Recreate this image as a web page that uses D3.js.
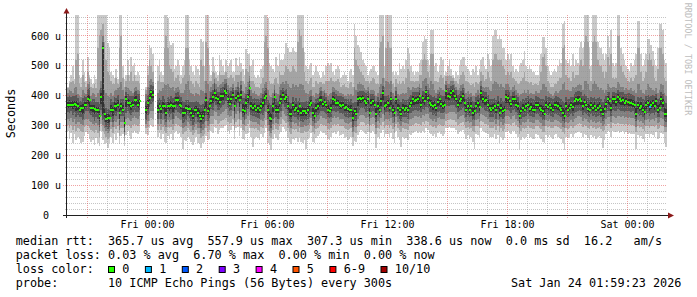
<!DOCTYPE html>
<html><head><meta charset="utf-8">
<script src="https://cdn.jsdelivr.net/npm/d3@7"></script>
<style>
html,body{margin:0;padding:0;background:#fff;}
svg{display:block;}
text{font-family:"DejaVu Sans Mono",monospace;white-space:pre;}
</style></head><body>
<svg id="c" width="697" height="297"></svg>
<script>
// ---- data: one entry per 5-minute step, values in microseconds ----
const med = [
370,370,370,370,372,367,365,353,359,359,367,370,387,385,359,357,356,353,353,331,
396,558,340,320,326,326,353,353,365,365,370,342,365,353,307,387,376,376,365,370,
385,385,370,381,null,null,null,353,376,392,411,403,null,null,353,365,356,365,365,342,
365,365,367,365,365,385,385,370,365,342,342,359,356,356,342,333,353,353,342,333,
322,331,353,385,348,365,381,396,409,392,387,378,400,398,414,409,389,373,389,403,
365,392,400,385,403,353,348,376,396,424,365,359,365,353,357,353,365,376,392,400,
353,326,322,365,396,353,353,376,389,403,387,396,365,340,340,370,353,359,348,365,
342,348,348,342,353,370,376,342,331,359,365,385,385,373,378,370,353,348,359,389,
385,376,376,370,365,370,359,362,356,353,353,326,348,340,387,392,387,392,381,376,
389,342,376,381,370,337,365,353,381,409,365,370,376,359,387,353,342,389,359,353,
340,359,353,359,353,365,376,389,381,385,389,398,370,392,381,411,392,376,370,365,
370,359,378,387,373,365,370,414,400,396,409,414,400,389,370,381,387,400,376,353,
365,353,365,342,348,365,376,362,409,389,381,385,370,359,353,359,365,353,370,342,
359,348,353,396,392,381,373,389,387,370,365,331,348,359,353,365,370,356,362,353,
353,367,370,359,353,348,340,370,362,370,359,353,367,370,365,359,353,342,331,365,
353,359,370,362,381,387,385,389,381,365,378,370,356,353,370,359,365,353,359,365,
353,340,356,373,389,381,359,387,389,378,396,387,381,385,376,381,378,376,376,373,
370,337,370,359,365,353,345,370,376,362,370,376,365,381,353,359,389,376,337,339];

// outer pings (absolute): p1 = fastest ... p10 = slowest
const p10 = [
430,450,470,500,455,680,680,470,460,520,480,450,530,470,455,440,470,455,680,680,
680,680,680,680,575,560,480,470,460,490,455,680,680,500,455,470,520,470,530,500,
510,470,480,470,null,null,null,430,500,570,560,540,null,null,500,520,480,470,680,680,
660,580,570,575,490,500,520,500,470,500,520,680,670,520,500,480,470,500,490,470,
590,580,500,680,680,500,470,530,500,480,470,535,520,500,480,520,500,510,520,480,
480,525,500,530,510,490,470,555,540,540,500,520,470,460,470,460,490,500,680,680,
660,510,500,490,480,530,500,540,520,520,540,575,560,545,545,560,550,545,680,680,
680,670,545,500,490,500,510,470,480,500,480,470,460,480,470,500,510,500,510,480,
470,490,500,490,460,470,480,470,450,480,490,470,640,600,570,560,545,520,510,500,
470,480,490,500,500,480,470,680,680,680,500,680,680,680,680,480,470,480,470,510,
490,500,490,520,560,540,500,480,470,480,480,510,520,580,600,590,520,500,620,620,
500,510,480,500,530,520,470,480,500,520,490,470,460,480,470,500,520,530,530,500,
490,480,470,490,480,500,470,490,520,530,500,490,540,520,500,600,620,620,590,600,
590,560,560,520,540,520,540,500,480,490,480,500,510,520,550,500,490,500,490,480,
480,470,470,500,540,597,597,560,500,480,470,480,490,480,500,520,510,640,650,520,
510,520,500,540,500,520,510,560,580,560,680,680,680,560,500,680,680,680,580,560,
560,540,520,540,600,560,620,510,500,510,680,680,560,540,520,500,490,480,510,500,
520,540,650,650,540,500,520,540,590,590,570,550,520,500,560,640,640,620,520,510];

const p9 = [
425,440,445,450,440,520,540,440,430,470,445,430,480,460,430,425,440,425,560,600,
620,640,580,520,480,470,450,440,440,460,440,560,600,460,430,450,470,450,480,450,
470,450,450,440,null,null,null,418,470,520,500,480,null,null,450,470,445,445,560,600,
560,500,490,480,450,460,470,450,440,460,470,560,560,470,450,440,430,450,440,430,
520,500,450,580,560,450,450,480,475,460,450,480,470,470,470,480,460,460,470,460,
450,470,470,470,480,450,440,490,480,500,450,450,440,430,430,425,440,460,580,600,
560,450,440,440,455,460,440,480,470,470,480,500,490,480,480,500,490,480,580,620,
600,560,480,450,440,450,460,430,430,450,440,445,445,440,440,450,450,450,460,450,
445,450,455,445,430,435,440,430,425,440,445,430,560,520,500,490,480,470,460,450,
450,440,450,460,455,440,440,560,580,600,460,560,580,560,560,440,430,455,440,450,
440,450,440,460,490,480,450,450,445,450,450,470,470,520,540,520,480,460,540,540,
450,450,445,460,470,460,440,465,465,470,465,460,450,450,440,455,470,480,470,450,
445,440,435,440,430,445,440,445,480,470,450,455,480,460,450,520,540,540,520,520,
520,500,490,470,480,470,480,460,455,450,440,440,450,460,480,450,445,440,445,435,
440,440,435,450,480,530,540,500,450,440,430,430,440,440,450,460,460,560,570,470,
460,460,450,480,460,470,470,500,520,500,580,600,580,490,450,580,600,580,520,500,
500,480,460,480,530,500,540,460,455,460,600,600,500,480,470,460,450,445,460,450,
460,470,560,560,480,450,460,480,520,540,520,500,460,450,490,560,560,540,460,450];

const p8 = [
410,420,415,410,425,430,405,400,395,420,410,405,440,445,400,410,405,395,410,420,
450,600,420,410,400,395,410,400,415,420,425,430,445,420,400,430,425,420,415,410,
425,430,420,415,null,null,null,405,430,450,455,445,null,null,410,420,415,425,440,435,
440,430,425,430,415,425,430,420,410,410,420,440,450,420,410,405,400,410,405,400,
420,415,410,450,440,415,430,440,455,440,430,435,440,445,455,455,435,425,430,440,
420,430,445,425,450,415,410,430,445,465,420,410,415,405,400,400,410,425,440,445,
420,400,395,410,435,410,405,430,440,445,440,450,440,430,425,440,430,435,430,440,
440,435,420,410,405,415,420,400,395,410,405,425,430,415,420,410,400,405,410,430,
425,420,415,410,410,405,400,400,405,400,405,400,430,420,440,445,440,435,425,420,
430,410,420,420,415,400,410,430,440,460,430,450,445,440,450,410,400,430,405,400,
405,410,405,410,430,425,420,430,425,425,430,440,425,450,455,460,440,425,450,440,
420,410,420,430,425,420,415,450,440,440,450,450,440,430,420,425,435,440,425,410,
415,405,410,400,400,410,420,410,450,430,425,430,430,420,415,440,450,445,440,430,
440,430,425,440,440,430,420,430,435,420,410,400,405,410,420,410,420,405,410,405,
405,415,410,410,420,440,440,430,415,410,405,400,410,415,410,415,420,440,445,420,
420,415,415,430,425,430,435,440,435,420,450,450,440,420,415,440,450,440,430,420,
425,420,410,420,440,430,425,430,430,425,445,440,430,430,420,425,420,420,425,415,
420,410,440,440,420,410,405,420,440,430,425,420,415,425,410,420,440,435,410,400];

const p3 = [
320,315,325,310,320,305,312,310,305,300,318,322,320,315,310,305,300,308,300,280,
330,300,290,280,275,280,310,295,315,310,320,285,310,312,265,320,325,318,315,325,
330,325,322,330,null,null,null,305,315,340,350,350,null,null,305,320,305,318,300,295,
318,310,318,305,320,330,325,320,318,290,295,298,312,305,298,285,295,305,292,290,
275,285,292,315,298,305,330,330,350,345,330,332,340,345,350,355,335,328,332,350,
305,340,350,320,345,305,300,320,330,345,315,312,310,310,305,302,318,315,325,345,
300,282,275,305,325,308,305,320,328,350,340,332,312,298,292,310,305,308,298,310,
296,295,300,298,302,308,325,298,290,308,315,320,330,325,325,320,308,305,310,325,
330,325,328,318,320,320,312,308,305,308,310,278,298,295,320,330,335,335,332,325,
328,298,325,328,325,292,315,308,325,340,315,322,322,315,325,308,295,328,312,305,
298,310,308,308,305,318,320,325,330,332,328,330,325,335,330,340,338,325,322,315,
320,312,325,328,322,320,322,340,342,345,345,345,345,338,322,328,330,335,325,310,
315,308,312,298,298,318,320,312,340,335,330,328,322,310,310,310,318,305,318,298,
310,302,308,330,330,328,322,332,335,322,315,290,302,310,308,312,320,310,312,308,
308,318,318,312,308,298,298,318,315,320,312,310,318,318,315,312,308,296,290,312,
308,312,318,312,320,325,330,332,328,315,325,320,310,308,318,312,315,308,312,315,
308,298,305,320,328,328,312,330,328,326,332,330,328,330,325,328,326,328,325,326,
320,296,318,312,315,308,300,318,320,312,318,320,315,325,308,310,326,322,296,295];

const p2 = [
300,290,300,285,298,282,290,288,280,278,295,300,298,290,285,280,275,285,275,262,
305,282,270,262,255,262,288,275,295,288,298,265,290,292,248,300,302,298,292,300,
305,300,298,305,null,null,null,290,295,315,325,322,null,null,285,298,285,295,280,275,
295,290,295,285,298,305,300,298,295,272,278,280,290,285,278,268,275,285,272,270,
258,265,272,292,278,285,305,305,320,318,305,308,315,318,322,325,310,305,308,322,
285,312,320,298,318,285,282,298,305,318,292,290,288,290,285,282,296,292,302,318,
280,265,258,285,300,288,285,298,305,322,315,308,290,278,272,288,285,288,278,290,
276,275,280,278,282,288,302,278,272,288,292,298,305,302,302,298,288,285,290,302,
305,302,305,298,298,298,292,288,285,288,290,260,278,275,298,305,310,310,308,302,
305,278,302,305,302,272,292,288,302,312,292,300,300,292,302,288,275,305,290,285,
278,290,288,288,285,298,298,302,305,308,305,305,302,310,305,315,312,302,300,295,
298,292,302,305,300,298,300,315,318,320,320,318,318,312,300,305,308,312,302,290,
295,288,292,280,278,298,298,292,315,310,305,305,300,290,290,290,298,285,298,278,
290,282,288,305,305,305,300,308,310,300,295,272,282,290,288,292,298,290,292,288,
288,298,298,292,288,278,278,298,295,298,292,290,298,298,295,292,288,278,272,292,
288,292,298,292,298,302,305,308,305,295,302,298,290,288,298,292,295,288,292,295,
288,280,285,298,305,305,292,308,305,305,308,305,305,305,302,305,302,305,302,302,
298,278,298,292,295,288,282,298,298,292,298,298,295,302,288,290,302,298,278,278];

const p1 = [
280,255,275,240,270,250,262,255,240,245,265,278,270,255,245,250,235,258,240,230,
280,250,238,240,225,240,262,240,270,252,275,238,265,270,230,268,280,265,255,275,
280,275,270,280,null,null,null,270,268,290,300,295,null,null,260,275,255,270,245,240,
265,255,270,250,275,280,270,275,260,222,250,248,262,255,245,235,245,260,240,238,
225,240,245,265,250,255,280,275,295,290,272,285,290,292,298,300,280,270,285,298,
255,290,295,265,292,255,250,270,275,292,262,228,255,262,258,250,270,262,275,290,
240,235,218,255,270,258,252,270,278,295,288,280,258,245,238,255,250,258,245,262,
245,240,250,222,255,262,275,245,240,258,265,270,280,275,275,268,255,250,262,275,
278,270,280,265,268,270,258,260,252,255,262,230,248,245,268,278,285,280,275,270,
278,245,275,280,270,225,262,255,275,285,262,272,270,262,275,255,240,280,260,250,
228,262,255,258,250,270,268,275,278,282,275,280,275,280,275,290,285,275,270,265,
270,260,275,280,272,265,270,290,292,295,292,290,290,285,270,278,280,285,272,255,
268,255,262,245,222,270,268,262,290,282,278,275,270,258,260,262,270,255,268,240,
260,250,258,278,280,275,270,280,282,270,262,220,250,260,255,262,270,258,262,255,
255,270,268,262,255,245,240,268,262,268,260,255,268,270,262,258,255,240,218,262,
258,262,270,260,270,275,278,282,275,262,272,268,258,252,268,260,265,255,260,265,
258,225,250,270,280,278,260,282,278,278,282,275,278,280,272,278,270,275,272,270,
270,222,268,260,265,255,245,270,272,262,270,268,262,278,255,258,275,270,240,228];

// inner pings, as distances below / above the median
const in4Lo = [
25,30,22,35,28,40,30,24,32,40,28,22,38,45,25,30,40,24,30,35,
45,240,30,25,38,32,24,42,30,35,25,40,32,22,28,45,26,36,30,24,
32,40,26,30,null,null,null,35,42,30,38,26,null,null,30,24,35,26,45,30,
26,36,30,42,24,32,40,28,26,35,30,42,24,32,26,30,40,26,32,24,
30,26,42,50,32,40,26,45,30,24,35,26,40,30,42,28,32,24,36,30,
40,30,26,45,32,26,30,36,42,55,30,26,35,24,32,30,26,40,45,30,
32,26,30,42,48,26,30,35,40,30,26,42,32,24,30,40,26,32,30,36,
26,35,30,24,32,42,30,26,22,32,30,45,35,26,32,30,26,24,30,42,
35,30,26,32,24,30,26,35,30,26,24,30,32,26,45,40,30,35,26,30,
40,26,30,32,24,26,30,26,36,48,30,26,32,24,42,26,30,40,26,30,
24,30,26,32,30,26,35,42,30,32,40,45,26,36,30,50,32,30,26,30,
30,26,32,40,30,24,26,50,35,30,40,45,32,30,26,32,36,42,30,24,
30,26,32,24,30,26,35,30,48,32,30,36,26,30,24,30,26,30,32,24,
30,26,24,45,40,32,30,36,32,26,30,22,26,30,24,32,30,26,30,24,
26,30,32,26,24,30,22,32,26,30,26,24,30,32,30,26,24,26,22,32,
24,26,32,30,40,42,35,36,32,30,32,30,26,24,32,26,30,24,26,30,
26,24,30,32,40,32,26,36,40,30,42,36,32,35,30,32,30,26,30,26,
30,22,32,26,30,24,26,32,35,30,32,35,30,36,26,30,42,32,22,26];

const in5Lo = [
10,12,8,15,10,18,12,9,14,20,11,8,16,22,10,13,18,9,12,15,
25,220,12,10,18,14,9,20,12,15,10,22,14,8,12,25,10,16,12,9,
14,18,10,12,null,null,null,15,20,12,18,10,null,null,12,9,15,10,22,12,
10,16,12,20,9,14,18,11,10,15,12,20,9,14,10,12,18,10,14,9,
12,10,20,25,14,18,10,22,12,9,15,10,18,12,20,11,14,9,16,12,
18,12,10,22,14,10,12,16,20,30,12,10,15,9,14,12,10,18,22,12,
14,10,12,20,24,10,12,15,18,12,10,20,14,9,12,18,10,14,12,16,
10,15,12,9,14,20,12,10,8,14,12,22,15,10,14,12,10,9,12,20,
15,12,10,14,9,12,10,15,12,10,9,12,14,10,22,18,12,15,10,12,
18,10,12,14,9,10,12,10,16,24,12,10,14,9,20,10,12,18,10,12,
9,12,10,14,12,10,15,20,12,14,18,22,10,16,12,25,14,12,10,12,
12,10,14,18,12,9,10,25,15,12,18,22,14,12,10,14,16,20,12,9,
12,10,14,9,12,10,15,12,24,14,12,16,10,12,9,12,10,12,14,9,
12,10,9,22,18,14,12,16,14,10,12,8,10,12,9,14,12,10,12,9,
10,12,14,10,9,12,8,14,10,12,10,9,12,14,12,10,9,10,8,14,
9,10,14,12,18,20,15,16,14,12,14,12,10,9,14,10,12,9,10,12,
10,9,12,14,18,14,10,16,18,12,20,16,14,15,12,14,12,10,12,10,
12,8,14,10,12,9,10,14,15,12,14,15,12,16,10,12,20,14,8,10];

const in5Hi = [
9,14,10,12,11,15,10,12,9,14,12,10,15,18,9,12,14,10,9,18,
12,8,14,18,12,10,15,9,12,10,14,12,9,15,20,10,12,9,14,11,
10,12,15,9,null,null,null,12,10,15,9,12,null,null,14,10,12,15,9,16,
12,9,14,10,12,9,11,14,12,18,15,10,12,9,16,20,10,12,15,18,
22,18,12,9,15,10,12,9,14,12,10,15,9,12,10,14,12,15,10,9,
15,10,12,9,14,18,20,12,10,9,14,12,10,15,12,14,10,12,9,10,
14,22,20,10,9,15,12,10,12,9,12,10,14,18,16,10,12,14,15,10,
16,14,12,18,12,10,9,16,20,12,10,9,12,10,12,10,14,15,12,9,
10,12,9,12,14,10,12,10,14,12,15,24,12,18,10,9,12,9,12,14,
10,18,12,9,12,20,12,14,10,9,14,12,10,14,9,15,18,10,12,14,
18,12,14,10,15,12,10,9,12,10,9,10,12,9,12,8,10,12,14,12,
12,14,10,9,12,14,12,8,10,12,9,8,10,12,14,10,12,9,12,16,
12,15,12,18,14,12,10,12,9,10,12,10,14,12,15,12,10,14,12,18,
14,15,12,9,10,12,10,9,12,14,12,20,15,12,14,10,12,14,12,15,
14,12,10,14,15,18,20,12,14,10,14,15,10,12,12,14,15,18,20,12,
15,12,10,14,10,9,12,10,12,14,10,12,15,14,10,14,12,15,14,12,
15,18,14,10,9,12,14,10,9,12,8,10,12,10,12,10,12,14,12,12,
12,20,10,14,12,15,18,12,10,14,12,10,14,10,16,14,9,12,20,15];

const in4Hi = [
24,32,26,30,28,35,26,30,24,32,30,26,35,40,24,30,32,26,24,40,
30,20,32,40,30,26,35,24,30,26,32,30,24,35,45,26,30,24,32,28,
26,30,35,24,null,null,null,30,26,35,24,30,null,null,32,26,30,35,24,36,
30,24,32,26,30,24,28,32,30,40,35,26,30,24,36,45,26,30,35,40,
48,40,30,24,35,26,30,24,32,30,26,35,24,30,26,32,30,35,26,24,
35,26,30,24,32,40,45,30,26,24,32,30,26,35,30,32,26,30,24,26,
32,48,45,26,24,35,30,26,30,24,30,26,32,40,36,26,30,32,35,26,
36,32,30,40,30,26,24,36,45,30,26,24,30,26,30,26,32,35,30,24,
26,30,24,30,32,26,30,26,32,30,35,50,30,40,26,24,30,24,30,32,
26,40,30,24,30,45,30,32,26,24,32,30,26,32,24,35,40,26,30,32,
40,30,32,26,35,30,26,24,30,26,24,26,30,24,30,22,26,30,32,30,
30,32,26,24,30,32,30,22,26,30,24,22,26,30,32,26,30,24,30,36,
30,35,30,40,32,30,26,30,24,26,30,26,32,30,35,30,26,32,30,40,
32,35,30,24,26,30,26,24,30,32,30,45,35,30,32,26,30,32,30,35,
32,30,26,32,35,40,45,30,32,26,32,35,26,30,30,32,35,40,45,30,
35,30,26,32,26,24,30,26,30,32,26,30,35,32,26,32,30,35,32,30,
35,40,32,26,24,30,32,26,24,30,22,26,30,26,30,26,30,32,30,30,
30,45,26,32,30,35,40,30,26,32,30,26,32,26,36,32,24,30,45,35];

const lossSteps = [349];
const lossCounts = [1];

const xTickLabels = ["Fri 00:00","Fri 06:00","Fri 12:00","Fri 18:00","Sat 00:00"];
const xTickTimes = [Date.UTC(2026,0,23,0), Date.UTC(2026,0,23,6), Date.UTC(2026,0,23,12), Date.UTC(2026,0,23,18), Date.UTC(2026,0,24,0)];
const yTickValues = [0,100,200,300,400,500,600];
const yTickLabels = ["0  ","100 u","200 u","300 u","400 u","500 u","600 u"];

const lossLabels = ["0","1","2","3","4","5","6-9","10/10"];
const lossColors = ["#26ff00","#00b8ff","#0059ff","#7e00ff","#ff00ff","#ff5500","#ff0000","#a10000"];

const legendRtt  = "median rtt:  365.7 us avg  557.9 us max  307.3 us min  338.6 us now  0.0 ms sd  16.2   am/s";
const legendLoss = "packet loss: 0.03 % avg  6.70 % max  0.00 % min  0.00 % now";
const legendColor = "loss color:";
const legendProbe = "probe:       10 ICMP Echo Pings (56 Bytes) every 300s";
const legendDate = "Sat Jan 24 01:59:23 2026";

// ---- chart ----
const t0 = Date.UTC(2026,0,22,20,0,0);
const t1 = Date.UTC(2026,0,24,2,0,0);
const stepMs = 5*60*1000;
const N = med.length;

const p4 = med.map((m,i) => m == null ? null : m - in4Lo[i]);
const p5 = med.map((m,i) => m == null ? null : m - in5Lo[i]);
const p6 = med.map((m,i) => m == null ? null : m + in5Hi[i]);
const p7 = med.map((m,i) => m == null ? null : m + in4Hi[i]);

const svg = d3.select("#c");
svg.append("rect").attr("width",697).attr("height",297).attr("fill","#fff");

const x = d3.scaleUtc().domain([new Date(t0), new Date(t1)]).range([67, 667]);
const y = d3.scaleLinear().domain([0, 670]).range([215, 15]).clamp(true);

const plot = svg.append("g");
const bands = [[p1,p10,"#cacaca"],[p2,p9,"#a4a4a4"],[p3,p8,"#7e7e7e"],[p4,p7,"#585858"],[p5,p6,"#323232"]];
const idx = d3.range(N).filter(i => med[i] != null);
const xa = i => Math.round(x(new Date(t0 + i*stepMs)));
const xb = i => Math.round(x(new Date(t0 + (i+1)*stepMs)));

bands.forEach(([lo, hi, col]) => {
  plot.append("g").attr("shape-rendering","crispEdges")
    .selectAll("rect").data(idx).join("rect")
    .attr("x", i => xa(i))
    .attr("width", i => xb(i) - xa(i))
    .attr("y", i => Math.round(y(hi[i])))
    .attr("height", i => Math.max(1, Math.round(y(lo[i])) - Math.round(y(hi[i]))))
    .attr("fill", col);
});

const lossOf = i => { const k = lossSteps.indexOf(i); return k < 0 ? 0 : lossCounts[k]; };
const colorOfLoss = l => l >= 10 ? lossColors[7] : l >= 6 ? lossColors[6] : lossColors[l];
plot.append("g").attr("shape-rendering","crispEdges")
  .selectAll("rect").data(idx).join("rect")
  .attr("x", i => xa(i))
  .attr("width", i => Math.max(2, xb(i) - xa(i)))
  .attr("y", i => Math.round(y(med[i])) - 1)
  .attr("height", 2)
  .attr("fill", i => colorOfLoss(lossOf(i)));

// grid (over the graph, semi-transparent, dotted)
const grid = svg.append("g").attr("shape-rendering","crispEdges");
const minorCol = "rgba(150,150,150,0.55)", majorCol = "rgba(225,70,70,0.5)";
const yMinor = d3.range(20, 670, 20);
grid.selectAll("line.h").data(yMinor).join("line")
  .attr("x1", d => d % 100 === 0 ? 63 : 65).attr("x2", 667)
  .attr("y1", d => Math.floor(y(d)) + 0.5).attr("y2", d => Math.floor(y(d)) + 0.5)
  .attr("stroke", d => d % 100 === 0 ? majorCol : minorCol)
  .attr("stroke-dasharray", "1,1");
const hours = d3.utcHour.range(new Date(t0 + 3600000), new Date(t1));
grid.selectAll("line.v").data(hours).join("line")
  .attr("x1", d => Math.round(x(d)) + 0.5).attr("x2", d => Math.round(x(d)) + 0.5)
  .attr("y1", 15).attr("y2", d => d.getUTCHours() % 3 === 0 ? 218 : 217)
  .attr("stroke", d => d.getUTCHours() % 3 === 0 ? majorCol : minorCol)
  .attr("stroke-dasharray", "1,1");

// axis lines + arrows
const axCol = "#202020", arrowCol = "#8b1a1a";
svg.append("line").attr("x1",63).attr("x2",668).attr("y1",215.5).attr("y2",215.5).attr("stroke",axCol);
svg.append("line").attr("x1",66.5).attr("x2",66.5).attr("y1",13).attr("y2",218).attr("stroke",axCol);
svg.append("path").attr("d","M63.5,13.5L69.5,13.5L66.5,8Z").attr("fill",arrowCol);
svg.append("path").attr("d","M668,212.5L668,218.5L674,215.5Z").attr("fill",arrowCol);

// axis labels via d3 axes
const gx = svg.append("g").attr("transform","translate(0,215)")
  .call(d3.axisBottom(x).tickValues(xTickTimes.map(d => new Date(d)))
    .tickFormat((d,i) => xTickLabels[i]).tickSize(0).tickPadding(6));
gx.select(".domain").remove();
gx.attr("font-family","DejaVu Sans Mono").attr("font-size",10);
gx.selectAll("text").attr("fill","#000");

const gy = svg.append("g").attr("transform","translate(67,0)")
  .call(d3.axisLeft(y).tickValues(yTickValues)
    .tickFormat((d,i) => yTickLabels[i]).tickSize(0).tickPadding(6));
gy.select(".domain").remove();
gy.attr("font-family","DejaVu Sans Mono").attr("font-size",10);
gy.selectAll("text").attr("fill","#000").attr("xml:space","preserve");

// vertical titles
svg.append("text").attr("transform","translate(15,113.5) rotate(-90)")
  .attr("text-anchor","middle").attr("font-size","11.8px").attr("fill","#000").text("Seconds");
svg.append("text").attr("transform","translate(684.5,59) rotate(90)")
  .attr("text-anchor","middle").attr("font-size","8.5px").attr("fill","#bdbdbd").text("RRDTOOL / TOBI OETIKER");

// legend
const lg = svg.append("g").attr("font-size","11.8px").attr("fill","#000");
const addText = (s, xx, yy, anchor) => lg.append("text").attr("x",xx).attr("y",yy)
  .attr("xml:space","preserve").attr("text-anchor",anchor||"start").text(s);
addText(legendRtt, 15.7, 245);
addText(legendLoss, 15.7, 259);
addText(legendColor, 15.7, 273);
addText(legendProbe, 15.7, 287);
addText(legendDate, 681.4, 287, "end");

let bx = 108;
lossLabels.forEach((lab, k) => {
  lg.append("rect").attr("x", bx + 0.5).attr("y", 266.5).attr("width", 6).attr("height", 6)
    .attr("fill", lossColors[k]).attr("stroke", "#000").attr("stroke-width", 1);
  addText(lab, bx + 14.3, 273);
  bx += 14.3 + lab.length * 7.1 + 15.5;
});
</script>
</body></html>
